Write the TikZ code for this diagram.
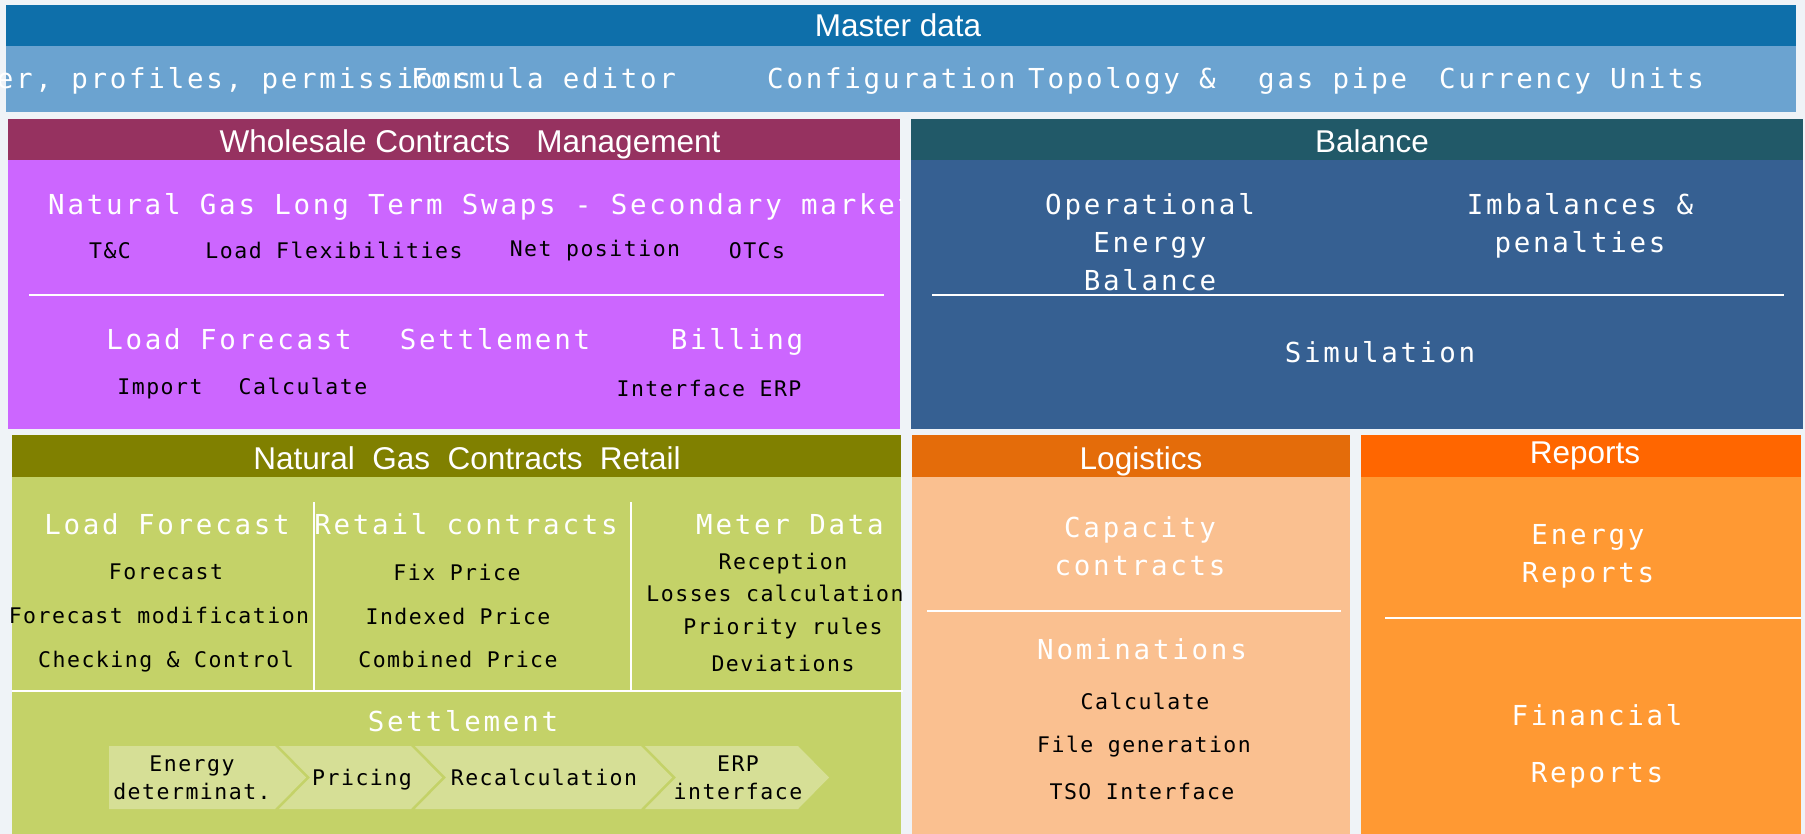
\documentclass[tikz,border=0pt]{standalone}
\usepackage{fontspec}
\setmainfont{Liberation Sans}
\newfontfamily\monobig[LetterSpace=10]{DejaVu Sans Mono}
\newfontfamily\monosmall[LetterSpace=7]{DejaVu Sans Mono}
\usepackage{xcolor}
\usetikzlibrary{positioning}

\definecolor{bgpale}{RGB}{239,243,247}
\definecolor{mhead}{RGB}{14,111,170}
\definecolor{mband}{RGB}{107,163,208}
\definecolor{whead}{RGB}{150,50,96}
\definecolor{wfill}{RGB}{204,102,255}
\definecolor{bhead}{RGB}{33,89,104}
\definecolor{bfill}{RGB}{54,96,146}
\definecolor{rhead}{RGB}{128,128,0}
\definecolor{rfill}{RGB}{196,210,104}
\definecolor{chevfill}{RGB}{214,223,150}
\definecolor{lhead}{RGB}{228,108,10}
\definecolor{lfill}{RGB}{250,192,144}
\definecolor{phead}{RGB}{255,102,0}
\definecolor{pfill}{RGB}{255,153,51}

\begin{document}
\begin{tikzpicture}[x=1pt, y=-1pt,
    hdr/.style={rectangle, inner sep=0pt, outer sep=0pt, anchor=north west},
    title/.style={inner sep=0pt, text=white, font=\fontsize{31.5}{36}\selectfont, text height=23pt, text depth=0pt},
    body/.style={rectangle, inner sep=0pt, outer sep=0pt, below=0pt of #1},
    big/.style={anchor=base, inner sep=0pt, text=white, align=center, font=\monobig\fontsize{27.5}{38}\selectfont},
    small/.style={anchor=base, inner sep=0pt, text=black, align=center, font=\monosmall\fontsize{21.5}{28}\selectfont},
    sep/.style={white, line width=2pt}]
    % Background
    \fill[bgpale] (0,0) rectangle (1805,834);
    \useasboundingbox (0,0) rectangle (1805,834);

    % Master data
    \node[hdr, fill=mhead, minimum width=1790pt, minimum height=41pt] (master) at (6,5) {};
    \node[title] (mtitle) at (898,25.5) {Master data};
    \node[body=master, fill=mband, minimum width=1790pt, minimum height=66pt] (mband) {};
    \begin{scope}
        \clip (0,0) rectangle (1805,834);
        \node[big, anchor=base west] (users) at (-42,88.5) {User, profiles, permissions};
    \end{scope}
    \node[big, anchor=base west] (formula) at (411,88.5) {Formula editor};
    \node[big, anchor=base west] (config) at (767,88.5) {Configuration};
    \node[big, anchor=base west] (topo) at (1028,88.5) {Topology \&};
    \node[big, anchor=base west] (pipe) at (1258,88.5) {gas pipe};
    \node[big, anchor=base west] (units) at (1439,88.5) {Currency Units};

    % Wholesale Contracts Management
    \node[hdr, fill=whead, minimum width=892pt, minimum height=41pt] (whole) at (8,119) {};
    \node[title] (wtitle) at (470,141.5) {Wholesale Contracts~~~Management};
    \node[body=whole, fill=wfill, minimum width=892pt, minimum height=269pt] (wbody) {};
    \begin{scope}
        \clip (wbody.north west) rectangle (wbody.south east);
        \node[big, anchor=base west] (swaps) at (48,214.5) {Natural Gas Long Term Swaps - Secondary market};
    \end{scope}
    \node[small] (tc) at (110,258.5) {T\&C};
    \node[small] (flex) at (334,258.5) {Load Flexibilities};
    \node[small] (netpos) at (595,256.5) {Net position};
    \node[small] (otc) at (757,258.5) {OTCs};
    \draw[sep] (29,295) -- (884,295);
    \node[big] (wload) at (229,349.5) {Load Forecast};
    \node[big] (wsettle) at (495,349.5) {Settlement};
    \node[big] (billing) at (737,349.5) {Billing};
    \node[small] (import) at (160,394.5) {Import};
    \node[small] (wcalc) at (303,394.5) {Calculate};
    \node[small] (erp) at (709,396.5) {Interface ERP};

    % Balance
    \node[hdr, fill=bhead, minimum width=892pt, minimum height=41pt] (balance) at (911,119) {};
    \node[title] (btitle) at (1372,141.5) {Balance};
    \node[body=balance, fill=bfill, minimum width=892pt, minimum height=269pt] (bbody) {};
    \node[big] (oeb) at (1150,290.5) {Operational\\Energy\\Balance};
    \node[big] (imbal) at (1580,252.5) {Imbalances \&\\penalties};
    \draw[sep] (932,295) -- (1784,295);
    \node[big] (sim) at (1380,362.5) {Simulation};

    % Natural Gas Contracts Retail
    \node[hdr, fill=rhead, minimum width=889pt, minimum height=42pt] (retail) at (12,435) {};
    \node[title] (rtitle) at (467,458) {Natural~~Gas~~Contracts~~Retail};
    \node[body=retail, fill=rfill, minimum width=889pt, minimum height=357pt] (rbody) {};
    \draw[sep, line width=1.5pt] (314,502) -- (314,691);
    \draw[sep, line width=1.5pt] (631,502) -- (631,691);
    \draw[sep, line width=1.5pt] (12,691) -- (903,691);
    \node[big] (rload) at (167,534.5) {Load Forecast};
    \node[big] (rcontr) at (466,534.5) {Retail contracts};
    \node[big] (meter) at (790,534.5) {Meter Data};
    \node[small] (fc) at (166,579.5) {Forecast};
    \node[small] (fcmod) at (159,623.5) {Forecast modification};
    \node[small] (check) at (166,667.5) {Checking \& Control};
    \node[small] (fix) at (457,580.5) {Fix Price};
    \node[small] (indexed) at (458,624.5) {Indexed Price};
    \node[small] (combined) at (458,667.5) {Combined Price};
    \node[small] (recep) at (783,569.5) {Reception};
    \node[small] (losses) at (775,601.5) {Losses calculation};
    \node[small] (prio) at (783,634.5) {Priority rules};
    \node[small] (dev) at (783,671.5) {Deviations};
    \node[big] (rsettle) at (463,731.5) {Settlement};
    % settlement steps
    \fill[chevfill] (109,746) -- (275,746) -- (306,777.5) -- (275,809) -- (109,809) -- cycle;
    \foreach \a/\b in {279/411, 415/641, 645/798}
        \fill[chevfill] (\a,746) -- (\b,746) -- (\b+31,777.5) -- (\b,809) -- (\a,809) -- (\a+31,777.5) -- cycle;
    \node[small] (edet) at (192,799.5) {Energy\\determinat.};
    \node[small] (pricing) at (362,785.5) {Pricing};
    \node[small] (recalc) at (544,785.5) {Recalculation};
    \node[small] (erpif) at (738,799.5) {ERP\\interface};

    % Logistics
    \node[hdr, fill=lhead, minimum width=438pt, minimum height=42pt] (logist) at (912,435) {};
    \node[title] (ltitle) at (1141,458) {Logistics};
    \node[body=logist, fill=lfill, minimum width=438pt, minimum height=357pt] (lbody) {};
    \node[big] (capac) at (1140,575.5) {Capacity\\contracts};
    \draw[sep] (927,611) -- (1341,611);
    \node[big] (nomin) at (1142,659.5) {Nominations};
    \node[small] (lcalc) at (1145,709.5) {Calculate};
    \node[small] (filegen) at (1144,752.5) {File generation};
    \node[small] (tso) at (1142,799.5) {TSO Interface};

    % Reports
    \node[hdr, fill=phead, minimum width=440pt, minimum height=42pt] (reports) at (1361,435) {};
    \node[title] (ptitle) at (1585,452) {Reports};
    \node[body=reports, fill=pfill, minimum width=440pt, minimum height=357pt] (pbody) {};
    \node[big] (energyrep) at (1588,582.5) {Energy\\Reports};
    \draw[sep] (1385,618) -- (1801,618);
    \node[big] (finrep) at (1597,782.5) {Financial\\[19pt]Reports};
\end{tikzpicture}
\end{document}
